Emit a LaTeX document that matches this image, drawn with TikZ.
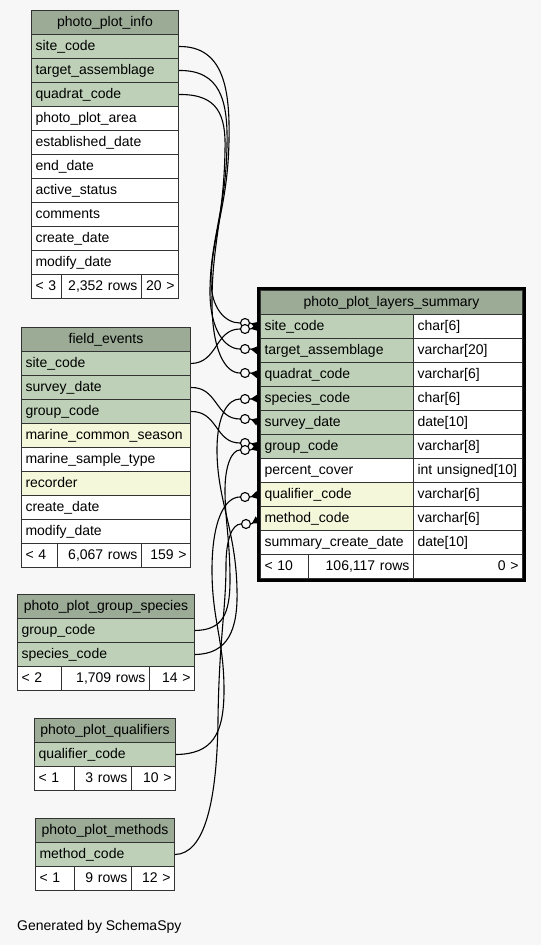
\documentclass[tikz,border=0pt]{standalone}
\usepackage{fontspec}
\setmainfont{Liberation Sans}
\usepackage{tikz}
\usetikzlibrary{arrows.meta,calc}
\definecolor{schemaBg}{HTML}{F7F7F7}
\definecolor{schemaHeadFill}{HTML}{9BAB96}
\definecolor{schemaKeyFill}{HTML}{BED1B8}
\definecolor{schemaIndexFill}{HTML}{F4F7DA}
\definecolor{schemaRule}{HTML}{333333}
\newcommand{\schemaFont}{\fontsize{14pt}{16pt}\selectfont}
\tikzset{
  schemaCell/.style={draw=schemaRule, line width=1pt, anchor=north west, minimum height=24pt, inner xsep=4pt, inner ysep=0pt, font=\schemaFont, text height=10.5pt, text depth=3pt},
  schemaHead/.style={schemaCell, fill=schemaHeadFill, minimum width=#1},
  schemaKey/.style={schemaCell, fill=schemaKeyFill, text width=#1-8pt, align=left},
  schemaIndex/.style={schemaCell, fill=schemaIndexFill, text width=#1-8pt, align=left},
  schemaCol/.style={schemaCell, fill=white, text width=#1-8pt, align=left},
  schemaCount/.style={schemaCell, fill=white, text width=#1-8pt, align=right},
  schemaDot/.style={circle, draw, fill=schemaBg, line width=1.1pt, minimum size=9pt, inner sep=0pt},
  schemaLink/.style={line width=1.1pt},
  schemaCrow/.style={line width=1.1pt, -{Triangle[reversed, length=7pt, width=8pt]}, shorten >=2.5pt}
}

\begin{document}
\begin{tikzpicture}[x=1pt, y=-1pt]
      \fill[schemaBg] (0,0) rectangle (541,945);
      \useasboundingbox (0,0) rectangle (541,945);

      % photo_plot_info
      \node[schemaHead=147pt] (info-head) at (31,10) {photo\_plot\_info};
      \node[schemaKey=147pt] (info-site) at (31,34) {site\_code};
      \node[schemaKey=147pt] (info-target) at (31,58) {target\_assemblage};
      \node[schemaKey=147pt] (info-quadrat) at (31,82) {quadrat\_code};
      \node[schemaCol=147pt] (info-area) at (31,106) {photo\_plot\_area};
      \node[schemaCol=147pt] (info-established) at (31,130) {established\_date};
      \node[schemaCol=147pt] (info-end) at (31,154) {end\_date};
      \node[schemaCol=147pt] (info-active) at (31,178) {active\_status};
      \node[schemaCol=147pt] (info-comments) at (31,202) {comments};
      \node[schemaCol=147pt] (info-create) at (31,226) {create\_date};
      \node[schemaCol=147pt] (info-modify) at (31,250) {modify\_date};
      \node[schemaCol=30pt] (info-parents) at (31,274) {< 3};
      \node[schemaCount=80pt] (info-rows) at (61,274) {2,352 rows};
      \node[schemaCount=37pt] (info-children) at (141,274) {20 >};

      % field_events
      \node[schemaHead=169pt] (events-head) at (21,327) {field\_events};
      \node[schemaKey=169pt] (events-site) at (21,351) {site\_code};
      \node[schemaKey=169pt] (events-survey) at (21,375) {survey\_date};
      \node[schemaKey=169pt] (events-group) at (21,399) {group\_code};
      \node[schemaIndex=169pt] (events-season) at (21,423) {marine\_common\_season};
      \node[schemaCol=169pt] (events-sample) at (21,447) {marine\_sample\_type};
      \node[schemaIndex=169pt] (events-recorder) at (21,471) {recorder};
      \node[schemaCol=169pt] (events-create) at (21,495) {create\_date};
      \node[schemaCol=169pt] (events-modify) at (21,519) {modify\_date};
      \node[schemaCol=36pt] (events-parents) at (21,543) {< 4};
      \node[schemaCount=84pt] (events-rows) at (57,543) {6,067 rows};
      \node[schemaCount=49pt] (events-children) at (141,543) {159 >};

      % photo_plot_group_species
      \node[schemaHead=177pt] (groups-head) at (17,594) {photo\_plot\_group\_species};
      \node[schemaKey=177pt] (groups-group) at (17,618) {group\_code};
      \node[schemaKey=177pt] (groups-species) at (17,642) {species\_code};
      \node[schemaCol=44pt] (groups-parents) at (17,666) {< 2};
      \node[schemaCount=88pt] (groups-rows) at (61,666) {1,709 rows};
      \node[schemaCount=45pt] (groups-children) at (149,666) {14 >};

      % photo_plot_qualifiers
      \node[schemaHead=141pt] (quals-head) at (34,718) {photo\_plot\_qualifiers};
      \node[schemaKey=141pt] (quals-code) at (34,742) {qualifier\_code};
      \node[schemaCol=40pt] (quals-parents) at (34,766) {< 1};
      \node[schemaCount=57pt] (quals-rows) at (74,766) {3 rows};
      \node[schemaCount=44pt] (quals-children) at (131,766) {10 >};

      % photo_plot_methods
      \node[schemaHead=139pt] (methods-head) at (35,818) {photo\_plot\_methods};
      \node[schemaKey=139pt] (methods-code) at (35,842) {method\_code};
      \node[schemaCol=39pt] (methods-parents) at (35,866) {< 1};
      \node[schemaCount=57pt] (methods-rows) at (74,866) {9 rows};
      \node[schemaCount=43pt] (methods-children) at (131,866) {12 >};

      % photo_plot_layers_summary
      \node[schemaHead=262pt] (sum-head) at (260,290) {photo\_plot\_layers\_summary};
      \node[schemaKey=153pt] (sum-site) at (260,314) {site\_code};
      \node[schemaCol=109pt] (sum-site-type) at (413,314) {char[6]};
      \node[schemaKey=153pt] (sum-target) at (260,338) {target\_assemblage};
      \node[schemaCol=109pt] (sum-target-type) at (413,338) {varchar[20]};
      \node[schemaKey=153pt] (sum-quadrat) at (260,362) {quadrat\_code};
      \node[schemaCol=109pt] (sum-quadrat-type) at (413,362) {varchar[6]};
      \node[schemaKey=153pt] (sum-species) at (260,386) {species\_code};
      \node[schemaCol=109pt] (sum-species-type) at (413,386) {char[6]};
      \node[schemaKey=153pt] (sum-survey) at (260,410) {survey\_date};
      \node[schemaCol=109pt] (sum-survey-type) at (413,410) {date[10]};
      \node[schemaKey=153pt] (sum-group) at (260,434) {group\_code};
      \node[schemaCol=109pt] (sum-group-type) at (413,434) {varchar[8]};
      \node[schemaCol=153pt] (sum-cover) at (260,458) {percent\_cover};
      \node[schemaCol=109pt] (sum-cover-type) at (413,458) {int unsigned[10]};
      \node[schemaIndex=153pt] (sum-qualifier) at (260,482) {qualifier\_code};
      \node[schemaCol=109pt] (sum-qualifier-type) at (413,482) {varchar[6]};
      \node[schemaIndex=153pt] (sum-method) at (260,506) {method\_code};
      \node[schemaCol=109pt] (sum-method-type) at (413,506) {varchar[6]};
      \node[schemaCol=153pt] (sum-created) at (260,530) {summary\_create\_date};
      \node[schemaCol=109pt] (sum-created-type) at (413,530) {date[10]};
      \node[schemaCol=48pt] (sum-parents) at (260,554) {< 10};
      \node[schemaCount=105pt] (sum-rows) at (308,554) {106,117 rows};
      \node[schemaCount=109pt] (sum-children) at (413,554) {0 >};

      % relationship ends
      \node[schemaDot] (dot-site-a) at (245,323) {};
      \node[schemaDot] (dot-site-b) at (245,329) {};
      \node[schemaDot] (dot-target) at (245,349) {};
      \node[schemaDot] (dot-quadrat) at (245,373) {};
      \node[schemaDot] (dot-species) at (245,399) {};
      \node[schemaDot] (dot-survey) at (245,419) {};
      \node[schemaDot] (dot-group-a) at (245,443) {};
      \node[schemaDot] (dot-group-b) at (245,450) {};
      \node[schemaDot] (dot-qualifier) at (245,497) {};
      \node[schemaDot] (dot-method) at (246,524) {};

      % relationships
      \draw[schemaLink] (info-site.east) .. controls (224,46) and (230,90) .. (229,140) .. controls (228,205) and (212,235) .. (211,280) .. controls (211,308) and (225,323) .. (dot-site-a.west);
      \draw[schemaLink] (info-target.east) .. controls (220,70) and (228,100) .. (227,145) .. controls (226,210) and (210,240) .. (210,292) .. controls (210,330) and (225,349) .. (dot-target.west);
      \draw[schemaLink] (info-quadrat.east) .. controls (218,94) and (226,115) .. (225,150) .. controls (224,215) and (212,245) .. (212,302) .. controls (212,350) and (225,373) .. (dot-quadrat.west);
      \draw[schemaLink] (events-site.east) .. controls (218,363) and (215,329) .. (dot-site-b.west);
      \draw[schemaLink] (events-survey.east) .. controls (218,387) and (215,419) .. (dot-survey.west);
      \draw[schemaLink] (events-group.east) .. controls (218,411) and (215,443) .. (dot-group-a.west);
      \draw[schemaLink] (groups-group.east) .. controls (222,630) and (230,615) .. (230,580) .. controls (230,540) and (225,520) .. (225,490) .. controls (225,465) and (232,450) .. (dot-group-b.west);
      \draw[schemaLink] (groups-species.east) .. controls (228,654) and (238,630) .. (237,590) .. controls (236,530) and (217,500) .. (217,450) .. controls (217,415) and (228,399) .. (dot-species.west);
      \draw[schemaLink] (quals-code.east) .. controls (212,754) and (224,735) .. (224,690) .. controls (224,640) and (212,620) .. (212,570) .. controls (212,520) and (225,497) .. (dot-qualifier.west);
      \draw[schemaLink] (methods-code.east) .. controls (205,854) and (217,800) .. (218,720) .. controls (219,640) and (226,610) .. (226,565) .. controls (226,540) and (232,524) .. (dot-method.west);

      \draw[schemaCrow] (dot-site-a.east) -- (sum-site.west);
      \draw[schemaCrow] (dot-site-b.east) -- (sum-site.west);
      \draw[schemaCrow] (dot-target.east) -- (sum-target.west);
      \draw[schemaCrow] (dot-quadrat.east) -- (sum-quadrat.west);
      \draw[schemaCrow] (dot-species.east) -- (sum-species.west);
      \draw[schemaCrow] (dot-survey.east) -- (sum-survey.west);
      \draw[schemaCrow] (dot-group-a.east) -- (sum-group.west);
      \draw[schemaCrow] (dot-group-b.east) -- (sum-group.west);
      \draw[schemaCrow] (dot-qualifier.east) -- (sum-qualifier.west);
      \draw[schemaCrow] (dot-method.east) -- (sum-method.west);

      \draw[line width=3pt] ($(sum-head.north west)+(-1.5,-1.5)$) rectangle ($(sum-children.south east)+(1.5,1.5)$);

      \node[anchor=base west, font=\schemaFont, inner sep=0pt] (credit) at (17,930.5) {Generated by SchemaSpy};
    \end{tikzpicture}
\end{document}
